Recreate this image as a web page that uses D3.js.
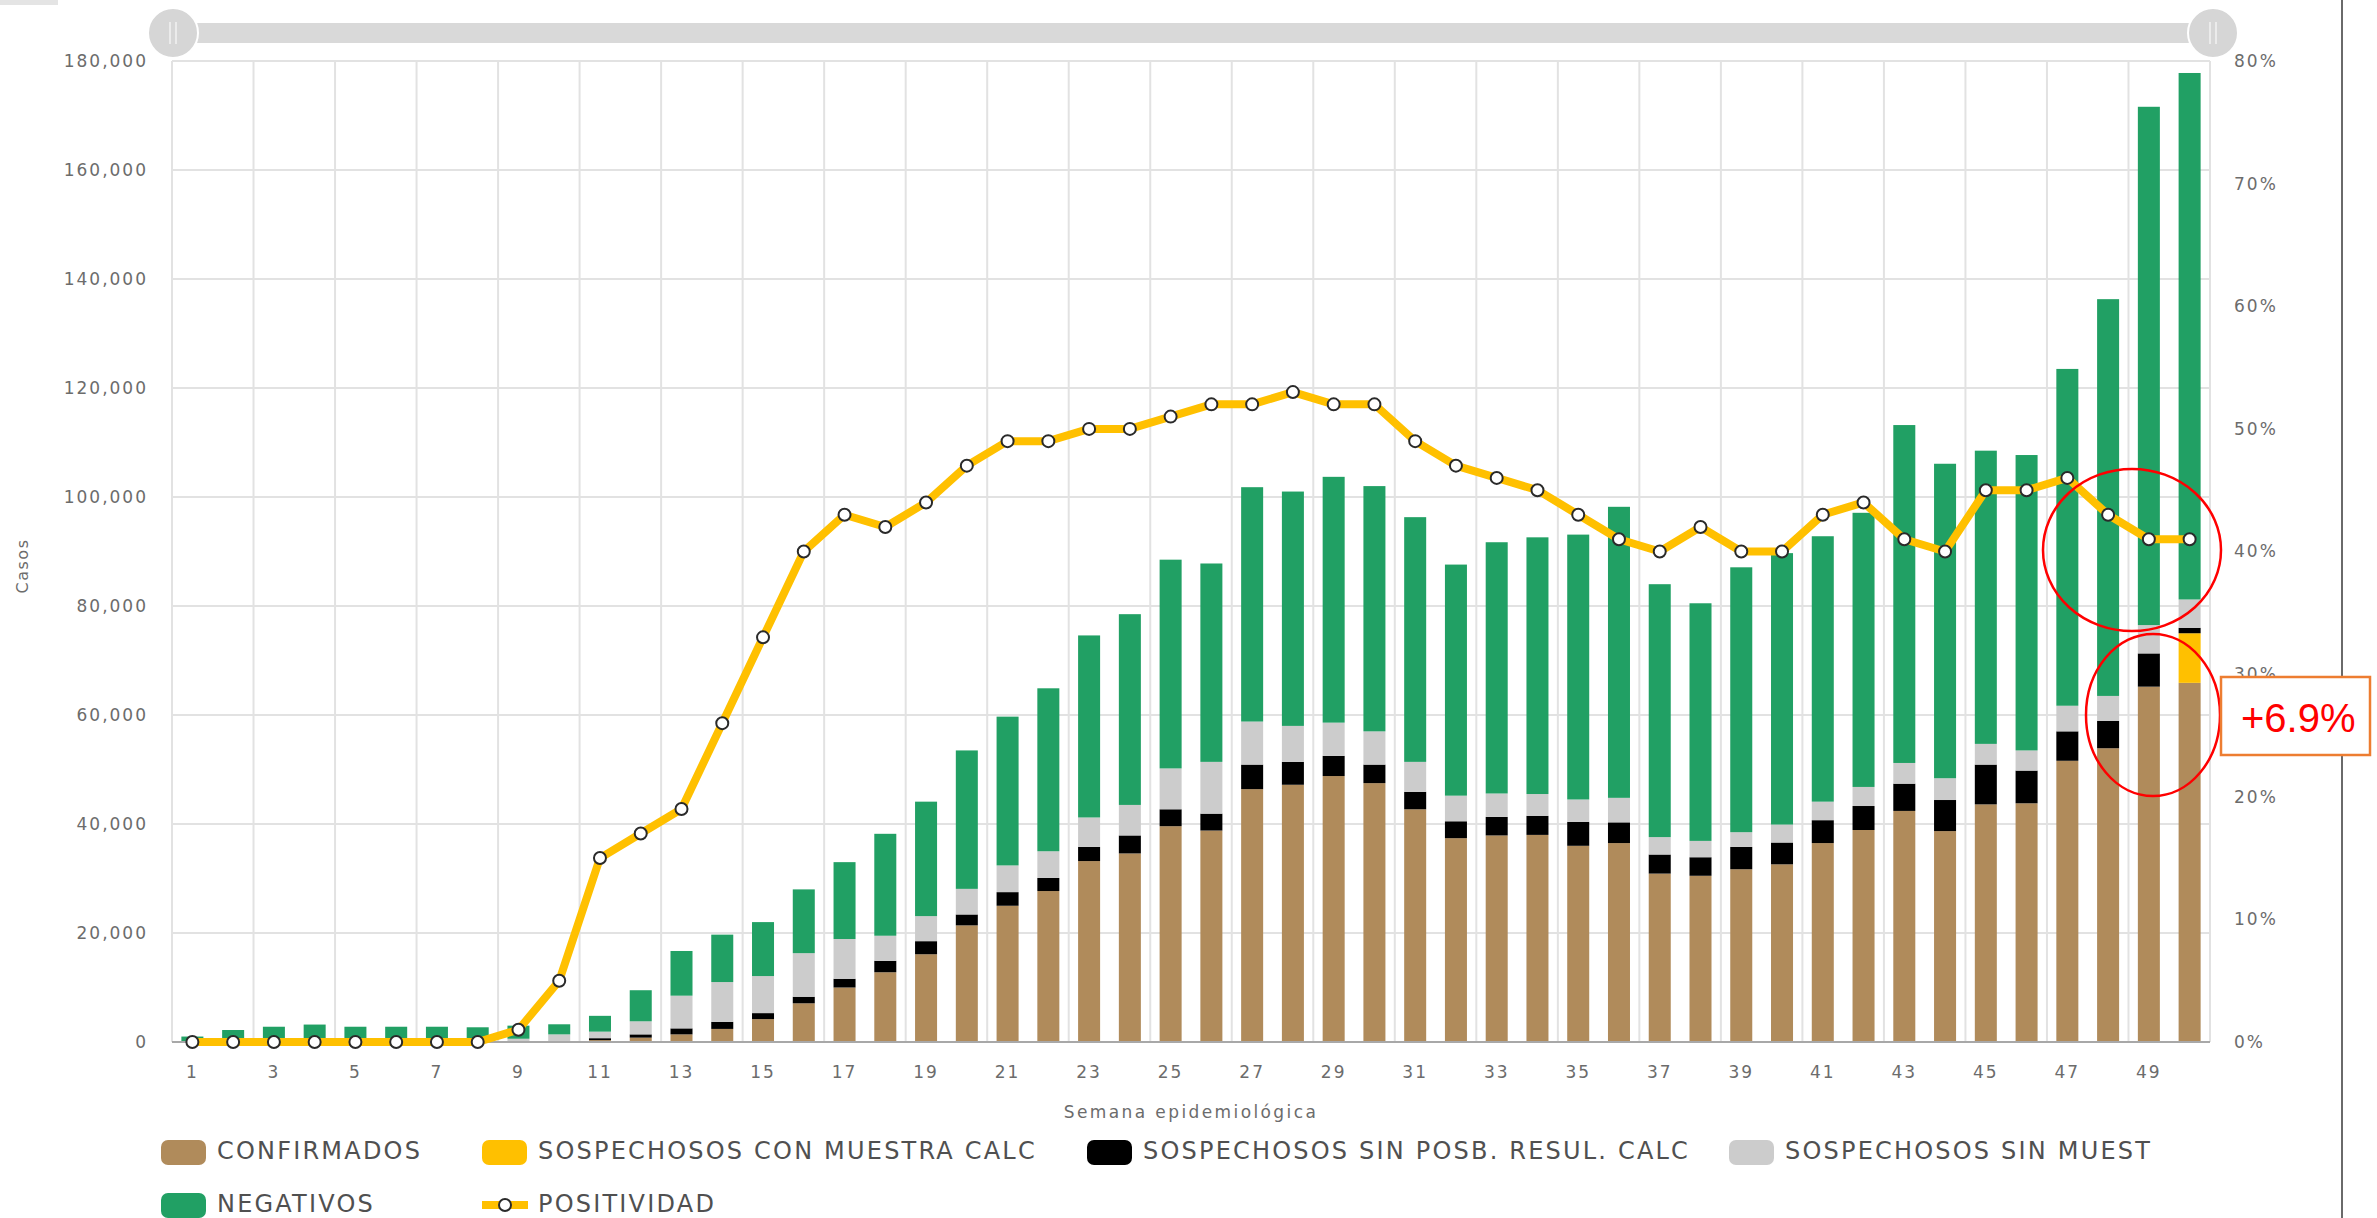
<!DOCTYPE html>
<html>
<head>
<meta charset="utf-8">
<script src="https://cdn.jsdelivr.net/npm/d3@7"></script>
<style>
  body { margin: 0; background: #fff; overflow: hidden; }
  svg { display: block; }
</style>
</head>
<body>
<div id="chart"></div>
<script>
var width = 2377;
var height = 1218;

// data
var weeks = d3.range(1, 51);
var weekLabels = weeks.filter(function(w) { return w % 2 === 1; });
var confirmados = [0,0,0,0,0,0,0,0,0,100,350,800,1400,2400,4200,7100,10000,12800,16100,21400,25000,27700,33200,34600,39600,38800,46400,47200,48800,47500,42700,37400,37900,38000,36000,36500,30900,30500,31700,32600,36500,38900,42400,38700,43600,43800,51600,53900,65200,65900];
var sospConMuestra = [0,0,0,0,0,0,0,0,0,0,0,0,0,0,0,0,0,0,0,0,0,0,0,0,0,0,0,0,0,0,0,0,0,0,0,0,0,0,0,0,0,0,0,0,0,0,0,0,0,9100];
var sospSinPosb = [0,0,0,0,0,0,0,0,0,50,350,600,1100,1300,1100,1200,1600,2100,2400,2000,2500,2400,2600,3300,3100,3100,4500,4200,3700,3400,3200,3100,3400,3500,4400,3800,3500,3400,4100,4000,4200,4400,5000,5700,7300,6000,5400,5000,6100,1000];
var sospSinMuest = [0,0,0,0,0,0,0,0,600,1250,1200,2400,6000,7300,6800,8000,7300,4600,4600,4700,4900,4900,5400,5600,7500,9500,7900,6600,6100,6100,5500,4700,4300,4000,4100,4500,3200,3000,2700,3300,3400,3500,3800,4000,3800,3700,4700,4600,5200,5200];
var negativos = [1000,2200,2800,3200,2800,2800,2800,2700,2400,1850,2900,5700,8200,8700,9900,11700,14100,18700,21000,25400,27300,29900,33400,35000,38300,36400,43000,43000,45100,45000,44900,42400,46100,47100,48600,53400,46400,43600,48600,49800,48700,50300,62000,57700,53800,54200,61800,72800,95100,96600];
var positividad = [0,0,0,0,0,0,0,0,1,5,15,17,19,26,33,40,43,42,44,47,49,49,50,50,51,52,52,53,52,52,49,47,46,45,43,41,40,42,40,40,43,44,41,40,45,45,46,43,41,41];
var casosTicks = d3.range(0, 180001, 20000);
var pctTicks = d3.range(0, 81, 10);

var seriesKeys = ['conf', 'conMuestra', 'sinPosb', 'sinMuest', 'neg'];
var seriesNames = ['CONFIRMADOS', 'SOSPECHOSOS CON MUESTRA CALC', 'SOSPECHOSOS SIN POSB. RESUL. CALC', 'SOSPECHOSOS SIN MUEST', 'NEGATIVOS'];
var seriesColors = ['#b08b5b', '#ffc000', '#000000', '#cccccc', '#21a064'];
var lineColor = '#ffc000';

var margin = { left: 172, right: 2210, top: 61, bottom: 1042 };
var textColor = '#6c6c6c';
var fontFamily = '"DejaVu Sans", Verdana, sans-serif';

var svg = d3.select('#chart')
  .append('svg')
  .attr('width', width)
  .attr('height', height);

var x = d3.scaleBand().domain(weeks).range([margin.left, margin.right]);
var barWidth = x.bandwidth() * 0.54;
var y = d3.scaleLinear().domain([0, 180000]).range([margin.bottom, margin.top]);
var yPct = d3.scaleLinear().domain([0, 80]).range([margin.bottom, margin.top]);

// table for the stack
var table = weeks.map(function(w, i) {
  return { week: w, conf: confirmados[i], conMuestra: sospConMuestra[i], sinPosb: sospSinPosb[i], sinMuest: sospSinMuest[i], neg: negativos[i] };
});
var stacked = d3.stack().keys(seriesKeys)(table);

// top-left scrap and slider
svg.append('rect').attr('x', 0).attr('y', 0).attr('width', 58).attr('height', 5).attr('fill', '#e4e4e4');
svg.append('rect')
  .attr('x', margin.left).attr('y', 23)
  .attr('width', margin.right - margin.left + 3).attr('height', 20)
  .attr('fill', '#d9d9d9');
[margin.left + 1, margin.right + 3].forEach(function(cx) {
  svg.append('circle').attr('cx', cx).attr('cy', 33).attr('r', 25)
    .attr('fill', '#d6d6d6').attr('stroke', '#ffffff').attr('stroke-width', 2);
  [-3, 3].forEach(function(dx) {
    svg.append('line')
      .attr('x1', cx + dx).attr('x2', cx + dx).attr('y1', 22).attr('y2', 44)
      .attr('stroke', '#f2f2f2').attr('stroke-width', 1.5);
  });
});

// grid
var grid = svg.append('g');
grid.selectAll('.hgrid')
  .data(casosTicks)
  .enter().append('line')
  .attr('x1', margin.left).attr('x2', margin.right)
  .attr('y1', function(d) { return y(d); })
  .attr('y2', function(d) { return y(d); })
  .attr('stroke', '#e2e2e2').attr('stroke-width', 2);
grid.selectAll('.vgrid')
  .data(weekLabels)
  .enter().append('line')
  .attr('x1', function(d) { return x(d); })
  .attr('x2', function(d) { return x(d); })
  .attr('y1', margin.top).attr('y2', margin.bottom)
  .attr('stroke', '#e2e2e2').attr('stroke-width', 2);
grid.append('line')
  .attr('x1', margin.right).attr('x2', margin.right)
  .attr('y1', margin.top).attr('y2', margin.bottom)
  .attr('stroke', '#e2e2e2').attr('stroke-width', 2);

// stacked bars
var layers = svg.selectAll('.layer')
  .data(stacked)
  .enter().append('g')
  .attr('fill', function(d, i) { return seriesColors[i]; });

layers.selectAll('rect')
  .data(function(d) { return d; })
  .enter().append('rect')
  .attr('x', function(d) { return x(d.data.week) + (x.bandwidth() - barWidth) / 2; })
  .attr('width', barWidth)
  .attr('y', function(d) { return y(d[1]); })
  .attr('height', function(d) { return Math.max(0, y(d[0]) - y(d[1])); });

// base line
svg.append('line')
  .attr('x1', margin.left).attr('x2', margin.right)
  .attr('y1', margin.bottom).attr('y2', margin.bottom)
  .attr('stroke', '#a8a8a8').attr('stroke-width', 2);

// positividad line
var line = d3.line()
  .x(function(d, i) { return x(weeks[i]) + x.bandwidth() / 2; })
  .y(function(d) { return yPct(d); });

svg.append('path')
  .datum(positividad)
  .attr('d', line)
  .attr('fill', 'none')
  .attr('stroke', lineColor)
  .attr('stroke-width', 8)
  .attr('stroke-linejoin', 'round');

svg.selectAll('.dot')
  .data(positividad)
  .enter().append('circle')
  .attr('cx', function(d, i) { return x(weeks[i]) + x.bandwidth() / 2; })
  .attr('cy', function(d) { return yPct(d); })
  .attr('r', 6)
  .attr('fill', '#ffffff')
  .attr('stroke', '#2a2a2a')
  .attr('stroke-width', 2);

// axes
function styleAxis(g) {
  g.select('.domain').remove();
  g.selectAll('text')
    .attr('fill', textColor)
    .style('font-family', fontFamily)
    .style('font-size', '17px')
    .style('letter-spacing', '2px');
}

svg.append('g')
  .attr('transform', 'translate(' + margin.left + ',0)')
  .call(d3.axisLeft(y).tickValues(casosTicks).tickFormat(d3.format(',')).tickSize(0).tickPadding(24))
  .call(styleAxis);

svg.append('g')
  .attr('transform', 'translate(' + margin.right + ',0)')
  .call(d3.axisRight(yPct).tickValues(pctTicks).tickFormat(function(d) { return d + '%'; }).tickSize(0).tickPadding(24))
  .call(styleAxis);

svg.append('g')
  .attr('transform', 'translate(0,' + margin.bottom + ')')
  .call(d3.axisBottom(x).tickValues(weekLabels).tickSize(0).tickPadding(24))
  .call(styleAxis);

// axis titles
svg.append('text')
  .attr('x', (margin.left + margin.right) / 2)
  .attr('y', 1118)
  .attr('text-anchor', 'middle')
  .attr('fill', textColor)
  .style('font-family', fontFamily)
  .style('font-size', '17px')
  .style('letter-spacing', '2.4px')
  .text('Semana epidemiológica');

svg.append('text')
  .attr('transform', 'translate(28,566) rotate(-90)')
  .attr('text-anchor', 'middle')
  .attr('fill', textColor)
  .style('font-family', fontFamily)
  .style('font-size', '16px')
  .style('letter-spacing', '1.5px')
  .text('Casos');

// legend
var legendX = [161, 482, 1087, 1729, 161];
var legendY = [1140, 1140, 1140, 1140, 1193];
var legend = svg.append('g');
seriesNames.forEach(function(name, i) {
  legend.append('rect')
    .attr('x', legendX[i]).attr('y', legendY[i])
    .attr('width', 45).attr('height', 25).attr('rx', 7)
    .attr('fill', seriesColors[i]);
  legend.append('text')
    .attr('x', legendX[i] + 56).attr('y', legendY[i] + 19)
    .attr('fill', '#505050')
    .style('font-family', fontFamily)
    .style('font-size', '24px')
    .style('letter-spacing', '2.2px')
    .text(name);
});
legend.append('line')
  .attr('x1', 482).attr('x2', 528).attr('y1', 1205).attr('y2', 1205)
  .attr('stroke', lineColor).attr('stroke-width', 8);
legend.append('circle')
  .attr('cx', 505).attr('cy', 1205).attr('r', 6)
  .attr('fill', '#ffffff').attr('stroke', '#2a2a2a').attr('stroke-width', 2);
legend.append('text')
  .attr('x', 538).attr('y', 1212)
  .attr('fill', '#505050')
  .style('font-family', fontFamily)
  .style('font-size', '24px')
  .style('letter-spacing', '2.2px')
  .text('POSITIVIDAD');

// right border
svg.append('line')
  .attr('x1', 2342).attr('x2', 2342).attr('y1', 0).attr('y2', height)
  .attr('stroke', '#6a6a6a').attr('stroke-width', 2);

// annotations
svg.append('ellipse')
  .attr('cx', 2132).attr('cy', 550).attr('rx', 89).attr('ry', 81)
  .attr('fill', 'none').attr('stroke', '#ff0000').attr('stroke-width', 2.5);
svg.append('ellipse')
  .attr('cx', 2153).attr('cy', 715).attr('rx', 67).attr('ry', 81)
  .attr('fill', 'none').attr('stroke', '#ff0000').attr('stroke-width', 2.5);
svg.append('rect')
  .attr('x', 2221).attr('y', 677).attr('width', 149).attr('height', 78)
  .attr('fill', '#ffffff').attr('stroke', '#ed7d31').attr('stroke-width', 2.5);
svg.append('text')
  .attr('x', 2241).attr('y', 732)
  .attr('fill', '#ff0000')
  .style('font-family', '"Liberation Sans", Arial, sans-serif')
  .style('font-size', '40px')
  .text('+6.9%');
</script>
</body>
</html>
